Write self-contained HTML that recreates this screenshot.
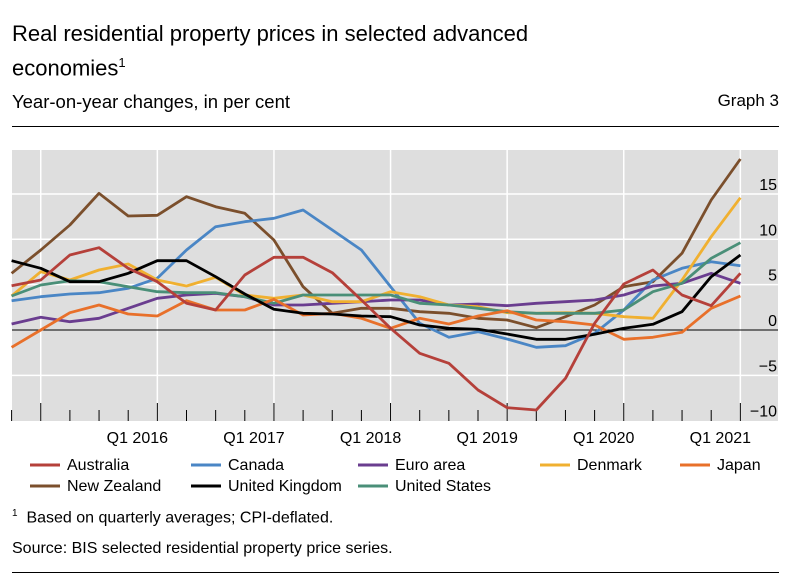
<!DOCTYPE html>
<html><head><meta charset="utf-8"><style>
body{margin:0;background:#fff;width:791px;height:580px;overflow:hidden;font-family:"Liberation Sans",sans-serif;color:#000}
.t{position:absolute;white-space:nowrap}
</style></head><body>
<div class="t" style="left:12px;top:19px;font-size:22px;line-height:29px">Real residential property prices in selected advanced<br>economies<sup style="font-size:13px">1</sup></div>
<div class="t" style="left:12px;top:91px;font-size:18.5px">Year-on-year changes, in per cent</div>
<div class="t" style="right:12px;top:91px;font-size:17px">Graph 3</div>
<div style="position:absolute;left:12px;right:12px;top:126px;height:1px;background:#000"></div>
<svg id="c" width="791" height="580" style="position:absolute;left:0;top:0" font-family="Liberation Sans, sans-serif"></svg>
<div class="t" style="left:12px;top:508px;font-size:16px"><sup style="font-size:10px">1</sup>&nbsp; Based on quarterly averages; CPI-deflated.</div>
<div class="t" style="left:12px;top:540px;font-size:16px">Source: BIS selected residential property price series.</div>
<div style="position:absolute;left:12px;right:12px;top:572px;height:1px;background:#000"></div>
<script>
const s=document.getElementById('c');let h='';
const L=12,R=778,T=150,B=421;
h+=`<rect x="${L}" y="${T}" width="${R-L}" height="${B-T}" fill="#dedede"/>`;
const Y=v=>330-9.07*v;
[15,10,5,-5].forEach(v=>h+=`<line x1="${L}" x2="${R}" y1="${Y(v)}" y2="${Y(v)}" stroke="#fff" stroke-width="1.5"/>`);
const X=i=>11.6+29.15*i;
for(let i=0;i<26;i++){const x=X(i);const maj=(i%4==1);
 if(maj)h+=`<line x1="${x}" x2="${x}" y1="${T}" y2="${B}" stroke="#fff" stroke-width="1.5"/>`;
 h+=`<line x1="${x}" x2="${x}" y1="${maj?403:410}" y2="${B}" stroke="#000" stroke-width="1"/>`;}
h+=`<line x1="${L}" x2="${R}" y1="330" y2="330" stroke="#000" stroke-width="1"/>`;
[[15,'15'],[10,'10'],[5,'5'],[0,'0'],[-5,'−5'],[-10,'−10']].forEach(a=>h+=`<text x="777" y="${Y(a[0])-4}" font-size="16" text-anchor="end">${a[1]}</text>`);
['Q1 2016','Q1 2017','Q1 2018','Q1 2019','Q1 2020','Q1 2021'].forEach((t,k)=>h+=`<text x="${X(5+4*k)-20}" y="443" font-size="16" text-anchor="middle">${t}</text>`);
const S=[
['#7b4f2c',[400,330,255,160,228,226,170,200,220,300,440,520,505,505],[500,515,520,535,540,563,530,495,440,425,340,180,57]],
['#4a86c5',[482,470,462,458,445,415,330,260,245,235,210,270,330,440],[420,550,592,575,597,622,617,580,510,420,385,365,377]],
['#6a3d8f',[552,532,545,535,505,475,465,460,470,495,495,490,485,480],[475,480,495,492,497,490,485,480,465,438,430,400,430]],
['#f0b030',[468,395,420,390,372,420,438,412,465,475,465,485,485,455],[455,470,495,500,518,520,518,520,530,535,420,290,173]],
['#4a8f78',[468,435,422,425,440,455,458,458,470,490,465,465,465,465],[465,490,495,505,515,520,520,520,510,455,430,355,308]],
['#e8702a',[622,570,518,495,522,528,482,510,510,478,525,520,535,565],[565,535,552,528,512,540,545,555,598,592,577,505,468]],
['#000',[362,385,425,425,400,362,362,410,462,508,520,522,528,530],[530,555,565,568,582,598,598,583,565,553,515,410,345]],
['#b5403a',[437,420,345,323,385,425,490,510,405,352,352,398,480,565],[565,640,670,750,803,810,715,550,432,390,465,497,400]],
];
S.forEach(([c,a,b])=>{const v=a.concat(b.slice(1));h+=`<polyline fill="none" stroke="${c}" stroke-width="2.8" stroke-linejoin="round" points="${v.map((y,i)=>X(i).toFixed(1)+','+(140+y/3).toFixed(1)).join(' ')}"/>`;});
const lg=[['#b5403a','Australia',30,465],['#4a86c5','Canada',191,465],['#6a3d8f','Euro area',358,465],['#f0b030','Denmark',540,465],['#e8702a','Japan',680,465],['#7b4f2c','New Zealand',30,486],['#000','United Kingdom',191,486],['#4a8f78','United States',358,486]];
lg.forEach(([c,t,x,y])=>{h+=`<line x1="${x}" x2="${x+30}" y1="${y}" y2="${y}" stroke="${c}" stroke-width="3"/><text x="${x+37}" y="${y+5}" font-size="16">${t}</text>`;});
s.innerHTML=h;
</script>
</body></html>
